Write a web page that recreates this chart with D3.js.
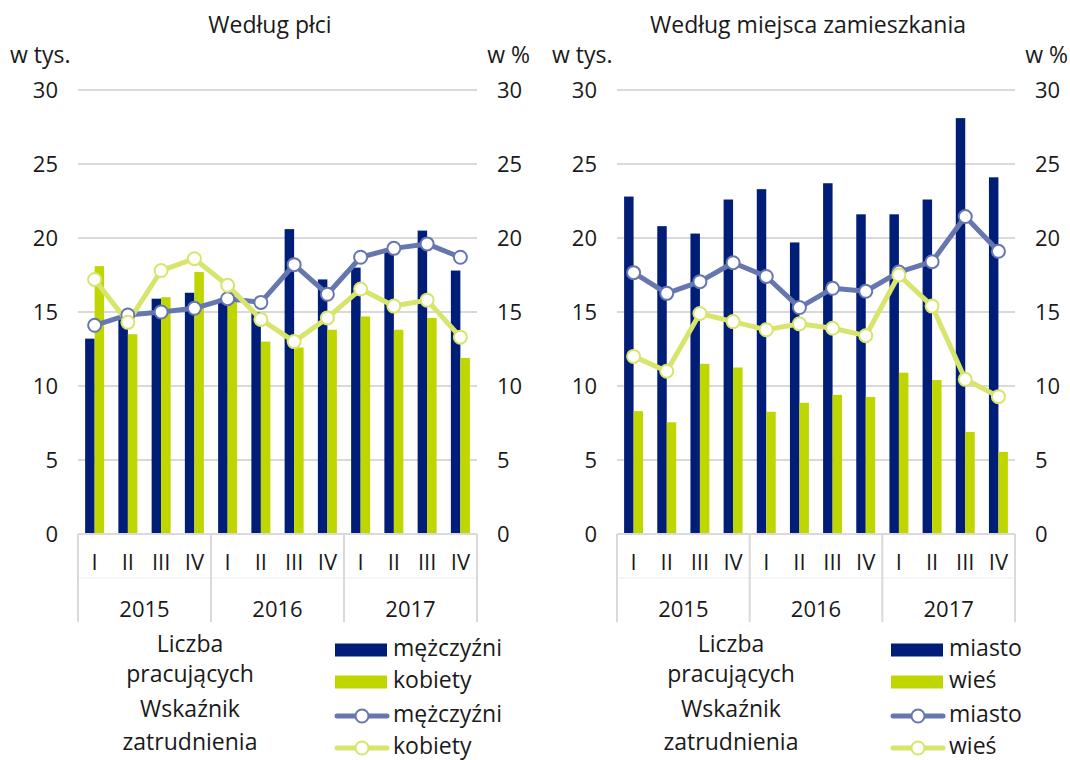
<!DOCTYPE html>
<html>
<head>
<meta charset="utf-8">
<script src="https://cdn.jsdelivr.net/npm/d3@7"></script>
<style>
  body { margin: 0; background: #fff; }
  text { font-family: "Open Sans", sans-serif; fill: #1a1a1a; }
</style>
</head>
<body>
<div id="chart"></div>
<script>
// categories
const years = ["2015", "2016", "2017"];
const quarters = ["I", "II", "III", "IV"];
const yTicks = [0, 5, 10, 15, 20, 25, 30];

// Według płci
const menCount = [13.2, 14.7, 15.9, 16.3, 15.9, 15.0, 20.6, 17.2, 18.0, 19.1, 20.5, 17.8];
const womenCount = [18.1, 13.5, 16.0, 17.7, 15.8, 13.0, 12.6, 13.8, 14.7, 13.8, 14.6, 11.9];
const menRate = [14.1, 14.8, 15.0, 15.25, 15.9, 15.65, 18.2, 16.2, 18.7, 19.3, 19.6, 18.7];
const womenRate = [17.2, 14.3, 17.8, 18.6, 16.8, 14.5, 13.0, 14.6, 16.55, 15.4, 15.8, 13.3];

// Według miejsca zamieszkania
const cityCount = [22.8, 20.8, 20.3, 22.6, 23.3, 19.7, 23.7, 21.6, 21.6, 22.6, 28.1, 24.1];
const villageCount = [8.3, 7.55, 11.5, 11.25, 8.26, 8.87, 9.4, 9.26, 10.9, 10.4, 6.9, 5.55];
const cityRate = [17.66, 16.26, 17.05, 18.33, 17.4, 15.3, 16.6, 16.4, 17.7, 18.4, 21.45, 19.1];
const villageRate = [12.0, 11.0, 14.9, 14.35, 13.8, 14.2, 13.9, 13.4, 17.5, 15.4, 10.45, 9.28];

const cats = [];
years.forEach(y => quarters.forEach(q => cats.push({ year: y, q: q, key: y + "-" + q })));

const NAVY = "#001e78", LIME = "#bfd600", LINE1 = "#6677b0", LINE2 = "#d8e56c", GRID = "#d9d9d9";
const FS = "23px", NUM = "22px";

const svg = d3.select("#chart").append("svg")
  .attr("width", 1070).attr("height", 760);

function drawPanel(cfg) {
  const g = svg.append("g");
  const x0 = d3.scaleBand().domain(cats.map(c => c.key)).range([cfg.left, cfg.right]).padding(0);
  const x1 = d3.scaleBand().domain(["a", "b"]).range([0, x0.bandwidth()]).paddingInner(0).paddingOuter(0.75);
  const y = d3.scaleLinear().domain([0, 30]).range([534, 90]);

  // title + units
  g.append("text").attr("x", cfg.titleX).attr("y", 33)
    .attr("text-anchor", "middle").style("font-size", FS).text(cfg.title);
  g.append("text").attr("x", cfg.unitX).attr("y", 63)
    .style("font-size", FS).text("w tys.");
  g.append("text").attr("x", cfg.right + 53).attr("y", 63)
    .attr("text-anchor", "end").style("font-size", FS).text("w %");

  // grid
  g.selectAll(".grid").data(yTicks.filter(d => d > 0)).enter().append("line")
    .attr("x1", cfg.left).attr("x2", cfg.right)
    .attr("y1", d => y(d)).attr("y2", d => y(d))
    .style("stroke", GRID).style("stroke-width", 2);

  // left / right value axes
  const axL = g.append("g").attr("transform", "translate(" + (cfg.left - 20) + ",0)")
    .call(d3.axisLeft(y).tickValues(yTicks).tickSize(0).tickPadding(0));
  const axR = g.append("g").attr("transform", "translate(" + (cfg.right + 20) + ",0)")
    .call(d3.axisRight(y).tickValues(yTicks).tickSize(0).tickPadding(0));
  [axL, axR].forEach(a => {
    a.select(".domain").remove();
    a.selectAll("text").style("font-size", NUM).style("fill", "#1a1a1a")
      .style("font-family", "'Open Sans', sans-serif");
  });

  // bars
  g.selectAll(".barA").data(cfg.bars1).enter().append("rect")
    .attr("x", (d, i) => x0(cats[i].key) + x1("a"))
    .attr("width", x1.bandwidth())
    .attr("y", d => y(d)).attr("height", d => y(0) - y(d))
    .style("fill", NAVY);
  g.selectAll(".barB").data(cfg.bars2).enter().append("rect")
    .attr("x", (d, i) => x0(cats[i].key) + x1("b"))
    .attr("width", x1.bandwidth())
    .attr("y", d => y(d)).attr("height", d => y(0) - y(d))
    .style("fill", LIME);

  // category axis (quarters + years)
  g.append("line").attr("x1", cfg.left).attr("x2", cfg.right)
    .attr("y1", 578).attr("y2", 578).style("stroke", "#f2f2f2").style("stroke-width", 1.5);
  g.append("line").attr("x1", cfg.left).attr("x2", cfg.right)
    .attr("y1", y(0)).attr("y2", y(0)).style("stroke", GRID).style("stroke-width", 2);
  years.forEach(yr => {
    const xs = x0(yr + "-I");
    g.append("line").attr("x1", xs).attr("x2", xs).attr("y1", y(0)).attr("y2", 622)
      .style("stroke", GRID).style("stroke-width", 2);
    g.append("text")
      .attr("x", xs + x0.bandwidth() * 2).attr("y", 617)
      .attr("text-anchor", "middle").style("font-size", NUM).text(yr);
  });
  g.append("line").attr("x1", cfg.right).attr("x2", cfg.right).attr("y1", y(0)).attr("y2", 622)
    .style("stroke", GRID).style("stroke-width", 2);
  g.selectAll(".qlab").data(cats).enter().append("text")
    .attr("x", d => x0(d.key) + x0.bandwidth() / 2).attr("y", 570)
    .attr("text-anchor", "middle").style("font-size", NUM).text(d => d.q);

  // rate lines
  const line = d3.line()
    .x((d, i) => x0(cats[i].key) + x0.bandwidth() / 2)
    .y(d => y(d));
  [[cfg.line1, LINE1], [cfg.line2, LINE2]].forEach(([vals, col]) => {
    g.append("path").datum(vals).attr("d", line)
      .style("fill", "none").style("stroke", col).style("stroke-width", 5)
      .style("stroke-linejoin", "round");
  });
  [[cfg.line1, LINE1], [cfg.line2, LINE2]].forEach(([vals, col]) => {
    g.selectAll(null).data(vals).enter().append("circle")
      .attr("cx", (d, i) => x0(cats[i].key) + x0.bandwidth() / 2)
      .attr("cy", d => y(d)).attr("r", 6.5)
      .style("fill", "#fff").style("stroke", col).style("stroke-width", 2);
  });

  // legend
  const lg = g.append("g");
  [["Liczba", 652], ["pracujących", 682], ["Wskaźnik", 717], ["zatrudnienia", 750]].forEach(([t, yy]) => {
    lg.append("text").attr("x", cfg.legCenter).attr("y", yy).attr("text-anchor", "middle")
      .style("font-size", FS).text(t);
  });

  const lx = cfg.legX;
  const items = [
    { type: "bar", col: NAVY, label: cfg.names[0], yy: 650 },
    { type: "bar", col: LIME, label: cfg.names[1], yy: 682 },
    { type: "line", col: LINE1, label: cfg.names[0], yy: 716 },
    { type: "line", col: LINE2, label: cfg.names[1], yy: 748 }
  ];
  items.forEach(it => {
    if (it.type === "bar") {
      lg.append("rect").attr("x", lx).attr("y", it.yy - 6.5).attr("width", 52).attr("height", 13)
        .style("fill", it.col);
    } else {
      lg.append("line").attr("x1", lx + 2).attr("x2", lx + 52).attr("y1", it.yy).attr("y2", it.yy)
        .style("stroke", it.col).style("stroke-width", 5).style("stroke-linecap", "round");
      lg.append("circle").attr("cx", lx + 27).attr("cy", it.yy).attr("r", 6.5)
        .style("fill", "#fff").style("stroke", it.col).style("stroke-width", 2);
    }
    lg.append("text").attr("x", lx + 58).attr("y", it.yy + 6).style("font-size", FS).text(it.label);
  });
}

drawPanel({
  title: "Według płci", titleX: 270, unitX: 10, left: 78, right: 477,
  bars1: menCount, bars2: womenCount, line1: menRate, line2: womenRate,
  names: ["mężczyźni", "kobiety"], legCenter: 190, legX: 335
});
drawPanel({
  title: "Według miejsca zamieszkania", titleX: 808, unitX: 552, left: 617, right: 1015,
  bars1: cityCount, bars2: villageCount, line1: cityRate, line2: villageRate,
  names: ["miasto", "wieś"], legCenter: 731, legX: 891
});
</script>
</body>
</html>
